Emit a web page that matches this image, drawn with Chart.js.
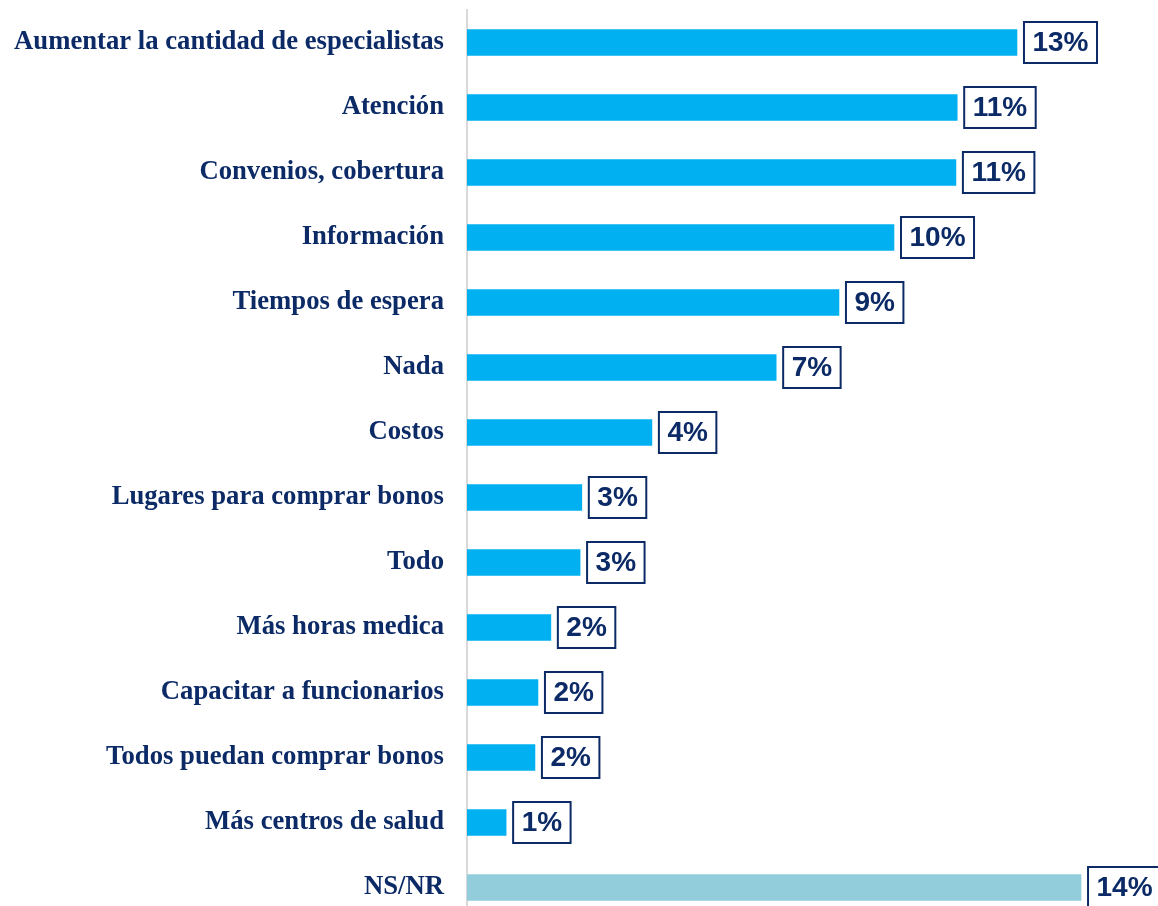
<!DOCTYPE html>
<html>
<head>
<meta charset="utf-8">
<script src="https://cdn.jsdelivr.net/npm/chart.js@4/dist/chart.umd.min.js"></script>
<style>
    html, body { margin: 0; padding: 0; background: #fff; overflow: hidden; }
    #wrap { position: relative; width: 1158px; height: 920px; }
</style>
</head>
<body>
<div id="wrap"><canvas id="chart"></canvas></div>
<script>
const categories = [
    'Aumentar la cantidad de especialistas',
    'Atención',
    'Convenios, cobertura',
    'Información',
    'Tiempos de espera',
    'Nada',
    'Costos',
    'Lugares para comprar bonos',
    'Todo',
    'Más horas medica',
    'Capacitar a funcionarios',
    'Todos puedan comprar bonos',
    'Más centros de salud',
    'NS/NR'
];
const values = [12.79, 11.40, 11.37, 9.93, 8.65, 7.19, 4.30, 2.67, 2.63, 1.95, 1.65, 1.58, 0.91, 14.28];
const barColors = [
    '#00B0F0', '#00B0F0', '#00B0F0', '#00B0F0', '#00B0F0', '#00B0F0', '#00B0F0',
    '#00B0F0', '#00B0F0', '#00B0F0', '#00B0F0', '#00B0F0', '#00B0F0', '#92CDDC'
];

const navy = '#0B2A66';

// boxed percentage next to the end of every bar
const boxedLabels = {
    id: 'boxedLabels',
    afterDatasetsDraw(chart) {
        const ctx = chart.ctx;
        const meta = chart.getDatasetMeta(0);
        ctx.save();
        ctx.font = 'bold 28px "Liberation Sans", Arial, sans-serif';
        ctx.textBaseline = 'middle';
        ctx.textAlign = 'left';
        meta.data.forEach((bar, i) => {
            const text = Math.round(values[i]) + '%';
            const w = ctx.measureText(text).width + 17;
            const h = 41;
            const x = bar.x + 7;
            const y = bar.y - h / 2;
            ctx.fillStyle = '#fff';
            ctx.fillRect(x, y, w, h);
            ctx.strokeStyle = navy;
            ctx.lineWidth = 2;
            ctx.strokeRect(x, y, w, h);
            ctx.fillStyle = navy;
            ctx.fillText(text, x + 8.5, bar.y + 1);
        });
        ctx.restore();
    }
};

new Chart(document.querySelector('#chart'), {
    type: 'bar',
    data: {
        labels: categories,
        datasets: [{
            data: values,
            backgroundColor: barColors,
            barThickness: 26
        }]
    },
    options: {
        indexAxis: 'y',
        responsive: true,
        maintainAspectRatio: false,
        animation: false,
        layout: {
            padding: {top: 10, right: 3, bottom: 0, left: 0}
        },
        plugins: {
            legend: {display: false},
            tooltip: {enabled: false}
        },
        scales: {
            x: {
                display: false,
                min: 0,
                max: 16
            },
            y: {
                afterFit: scale => {
                    scale.width = 467;
                    scale.paddingTop = 0;
                    scale.paddingBottom = 0;
                },
                grid: {display: false, drawTicks: false},
                border: {display: true, color: '#D9D9D9', width: 2},
                ticks: {
                    padding: 23,
                    color: navy,
                    font: {family: '"Liberation Serif", "Times New Roman", serif', weight: 'bold', size: 26.7}
                }
            }
        }
    },
    plugins: [boxedLabels]
});
</script>
</body>
</html>
